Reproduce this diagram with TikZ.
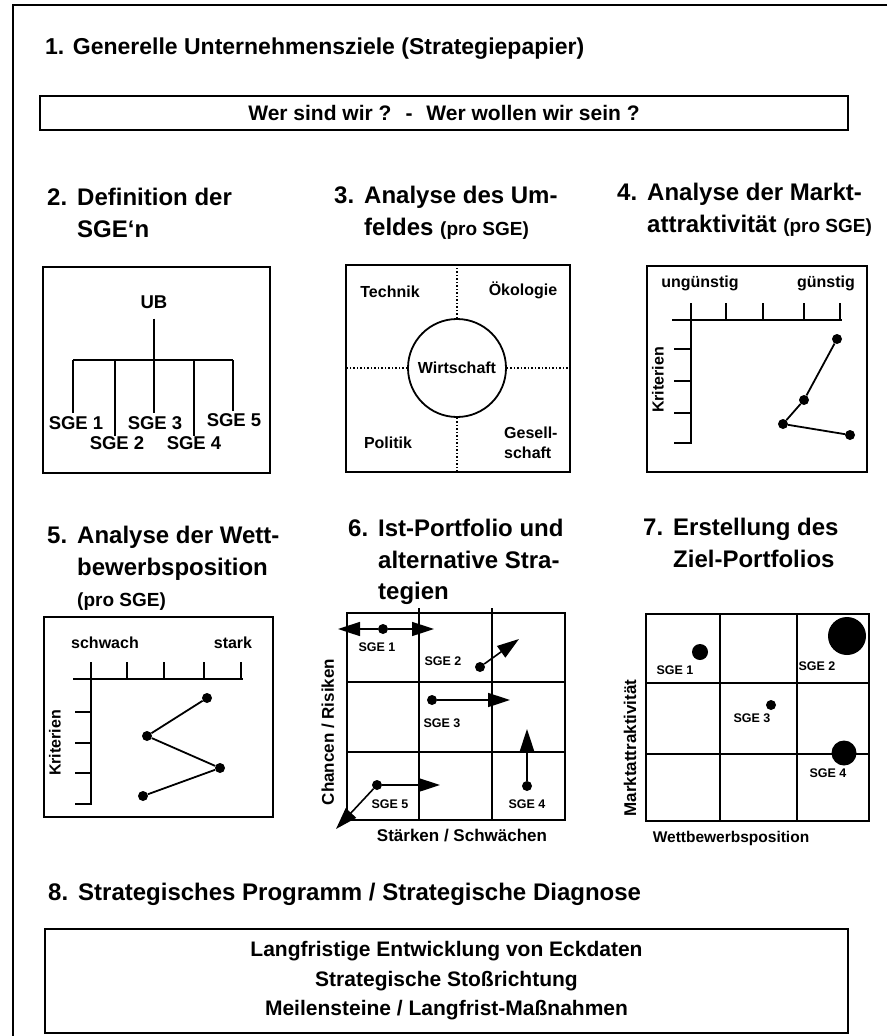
\documentclass[tikz,border=0pt]{standalone}
\usepackage{fontspec}
\setmainfont{Liberation Sans}
\usetikzlibrary{calc,arrows.meta}

\tikzset{
  titel/.style={anchor=north west,inner sep=0pt,align=left,font=\bfseries\fontsize{24}{31.5}\selectfont},
  kasten/.style={draw,line width=1.8pt,inner sep=0pt},
  linie/.style={line width=1.8pt},
  punktiert/.style={dotted,line width=1.5pt},
  baum/.style={inner sep=0pt,font=\bfseries\fontsize{18.5}{22}\selectfont},
  lbl/.style={inner sep=0pt,font=\bfseries\fontsize{16}{19}\selectfont},
  achse/.style={inner sep=0pt,font=\bfseries\fontsize{17}{20}\selectfont},
  sgelbl/.style={inner sep=0pt,font=\bfseries\fontsize{12.5}{14}\selectfont},
  punkt/.style={circle,fill,inner sep=0pt,minimum size=#1},
  punkt/.default=10pt,
  pfeil/.style={-{Triangle[length=22pt,width=14pt]},line width=1.6pt},
}
\newcommand{\prosge}{{\fontsize{19}{31.5}\selectfont(pro SGE)}}
\newcommand{\nr}[1]{\makebox[30pt][l]{#1}}
\newcommand{\ein}{\hspace*{30pt}}

\begin{document}
\begin{tikzpicture}[x=1pt,y=-1pt]
\useasboundingbox (0,0) rectangle (887,1036);
\draw[line width=1.3pt] (887,5) -- (13,5) -- (13,1036);

% 1. Unternehmensziele
\node[titel,font=\bfseries\fontsize{23}{31.5}\selectfont] (h1) at (45,38) {1. Generelle Unternehmensziele (Strategiepapier)};
\node[kasten,minimum width=808pt,minimum height=34pt,font=\bfseries\fontsize{21}{25}\selectfont] (wer) at (444,113) {Wer sind wir ?\hspace{14pt}-\hspace{14pt}Wer wollen wir sein ?};

% 2. SGE'n
\node[titel] (h2) at (47,188) {\nr{2.}Definition der\\\ein SGE‘n};
\node[kasten,minimum width=227pt,minimum height=206pt] (box2) at (156.5,370) {};
\node[baum] (ub) at (154,302) {UB};
\node[baum] (sge1) at (76,423) {SGE 1};
\node[baum] (sge2) at (117,443) {SGE 2};
\node[baum] (sge3) at (155,423) {SGE 3};
\node[baum] (sge4) at (194,443) {SGE 4};
\node[baum] (sge5) at (234,420) {SGE 5};
\coordinate (b1) at (73,360);
\coordinate (b2) at (115,360);
\coordinate (b3) at (154,360);
\coordinate (b4) at (194,360);
\coordinate (b5) at (233,360);
\draw[linie] ([yshift=-10pt]ub.south) -- (b3);
\draw[linie] (b1) -- (b5);
\draw[linie,shorten >=3pt] (b1) -- (b1 |- sge1.north);
\draw[linie] (b2) -- (b2 |- sge2.north);
\draw[linie,shorten >=3pt] (b3) -- (b3 |- sge3.north);
\draw[linie] (b4) -- (b4 |- sge4.north);
\draw[linie,shorten >=2pt] (b5) -- (b5 |- sge5.north);

% 3. Umfeld
\node[titel] (h3) at (334,186) {\nr{3.}Analyse des Um-\\\ein feldes \prosge};
\node[kasten,minimum width=224pt,minimum height=207pt] (box3) at (458,368.5) {};
\node[draw,circle,line width=1.8pt,minimum size=98pt,inner sep=0pt,font=\bfseries\fontsize{16}{19}\selectfont] (wirt) at (457,368) {Wirtschaft};
\draw[punktiert] (wirt.north) -- (wirt.north |- box3.north);
\draw[punktiert] (wirt.south) -- (wirt.south |- box3.south);
\draw[punktiert] (wirt.west) -- (wirt.west -| box3.west);
\draw[punktiert] (wirt.east) -- (wirt.east -| box3.east);
\node[lbl] (technik) at (390,292) {Technik};
\node[lbl] (oeko) at (523,290) {Ökologie};
\node[lbl] (politik) at (388,443) {Politik};
\node[lbl,anchor=west,align=left,font=\bfseries\fontsize{16}{19.5}\selectfont] (gesell) at (504,443) {Gesell-\\schaft};

% 4. Marktattraktivitaet
\node[titel] (h4) at (617,183) {\nr{4.}Analyse der Markt-\\\ein attraktivität \prosge};
\node[kasten,minimum width=220pt,minimum height=206pt] (box4) at (757,369) {};
\node[lbl] (ung) at (700,283) {ungünstig};
\node[lbl] (guen) at (826,283) {günstig};
\node[lbl,rotate=90] (krit4) at (658,380) {Kriterien};
\draw[linie] (672,320) -- (842,320)
  (691,303) -- (691,443) -- (674,443)
  (726,320) -- (726,303) (763,320) -- (763,303)
  (804,320) -- (804,303) (840,320) -- (840,303)
  (674,349) -- (691,349) (674,381) -- (691,381) (674,413) -- (691,413);
\node[punkt] (m1) at (837,339) {};
\node[punkt] (m2) at (804,400) {};
\node[punkt] (m3) at (783,424) {};
\node[punkt] (m4) at (850,435) {};
\draw[linie] (m1) -- (m2) -- (m3) -- (m4);

% 5. Wettbewerbsposition
\node[titel] (h5) at (47,526) {\nr{5.}Analyse der Wett-\\\ein bewerbsposition\\\ein\prosge};
\node[kasten,minimum width=229pt,minimum height=200pt] (box5) at (158.5,717) {};
\node[lbl] (schwach) at (105,643) {schwach};
\node[lbl] (stark) at (233,643) {stark};
\node[lbl,rotate=90] (krit5) at (55,743) {Kriterien};
\draw[linie] (73,679) -- (243,679)
  (91,662) -- (91,804) -- (75,804)
  (127,679) -- (127,662) (164,679) -- (164,662)
  (204,679) -- (204,662) (241,679) -- (241,662)
  (75,712) -- (91,712) (75,743) -- (91,743) (75,773) -- (91,773);
\node[punkt] (w1) at (207,698) {};
\node[punkt] (w2) at (147,736) {};
\node[punkt] (w3) at (220,768) {};
\node[punkt] (w4) at (143,796) {};
\draw[linie] (w1) -- (w2) -- (w3) -- (w4);

% 6. Ist-Portfolio
\node[titel] (h6) at (348,519) {\nr{6.}Ist-Portfolio und\\\ein alternative Stra-\\\ein tegien};
\draw[linie] (347,613) rectangle (565,820)
  (419,608) -- (419,820) (492,608) -- (492,820)
  (347,682) -- (565,682) (347,752) -- (565,752);
\node[achse,rotate=90] (chancen) at (328,732) {Chancen / Risiken};
\node[achse] (staerken) at (462,836) {Stärken / Schwächen};
\node[punkt] (i1) at (383,629) {};
\node[punkt] (i2) at (480,667) {};
\node[punkt] (i3) at (432,700) {};
\node[punkt] (i4) at (527,786) {};
\node[punkt] (i5) at (377,785) {};
\coordinate (z1l) at (338,629);
\coordinate (z1r) at (434,629);
\coordinate (z2) at (519,639);
\coordinate (z3) at (510,700);
\coordinate (z4) at (527,729);
\coordinate (z5r) at (440,785);
\coordinate (z5l) at (336,829);
\draw[pfeil] (i1) -- (z1l);
\draw[pfeil] (i1) -- (z1r);
\draw[pfeil] (i2) -- (z2);
\draw[pfeil] (i3) -- (z3);
\draw[pfeil] (i4) -- (z4);
\draw[pfeil] (i5) -- (z5r);
\draw[pfeil] (i5) -- (z5l);
\node[sgelbl] (is1) at (377,647) {SGE 1};
\node[sgelbl] (is2) at (443,661) {SGE 2};
\node[sgelbl] (is3) at (442,723) {SGE 3};
\node[sgelbl] (is4) at (527,804) {SGE 4};
\node[sgelbl] (is5) at (390,804) {SGE 5};

% 7. Ziel-Portfolio
\node[titel] (h7) at (643,518) {\nr{7.}Erstellung des\\\ein Ziel-Portfolios};
\draw[linie] (646,614) rectangle (869,821)
  (720,614) -- (720,821) (797,614) -- (797,821)
  (646,683) -- (869,683) (646,754) -- (869,754);
\node[achse,rotate=90] (markt) at (630,748) {Marktattraktivität};
\node[achse,font=\bfseries\fontsize{15.5}{18}\selectfont] (wettb) at (731,838) {Wettbewerbsposition};
\node[punkt=16pt] (ziel1) at (700,652) {};
\node[punkt=38pt] (ziel2) at (847,636) {};
\node[punkt=10pt] (ziel3) at (771,705) {};
\node[punkt=25pt] (ziel4) at (844,753) {};
\node[sgelbl] (zs1) at (675,670) {SGE 1};
\node[sgelbl] (zs2) at (817,666) {SGE 2};
\node[sgelbl] (zs3) at (752,718) {SGE 3};
\node[sgelbl] (zs4) at (828,773) {SGE 4};

% 8. Strategisches Programm
\node[titel] (h8) at (48,883) {\nr{8.}Strategisches Programm / Strategische Diagnose};
\node[kasten,minimum width=803pt,minimum height=104pt,align=center,font=\bfseries\fontsize{21}{29.5}\selectfont] (prog) at (446.5,981) {Langfristige Entwicklung von Eckdaten\\Strategische Stoßrichtung\\Meilensteine / Langfrist-Maßnahmen};
\end{tikzpicture}
\end{document}
